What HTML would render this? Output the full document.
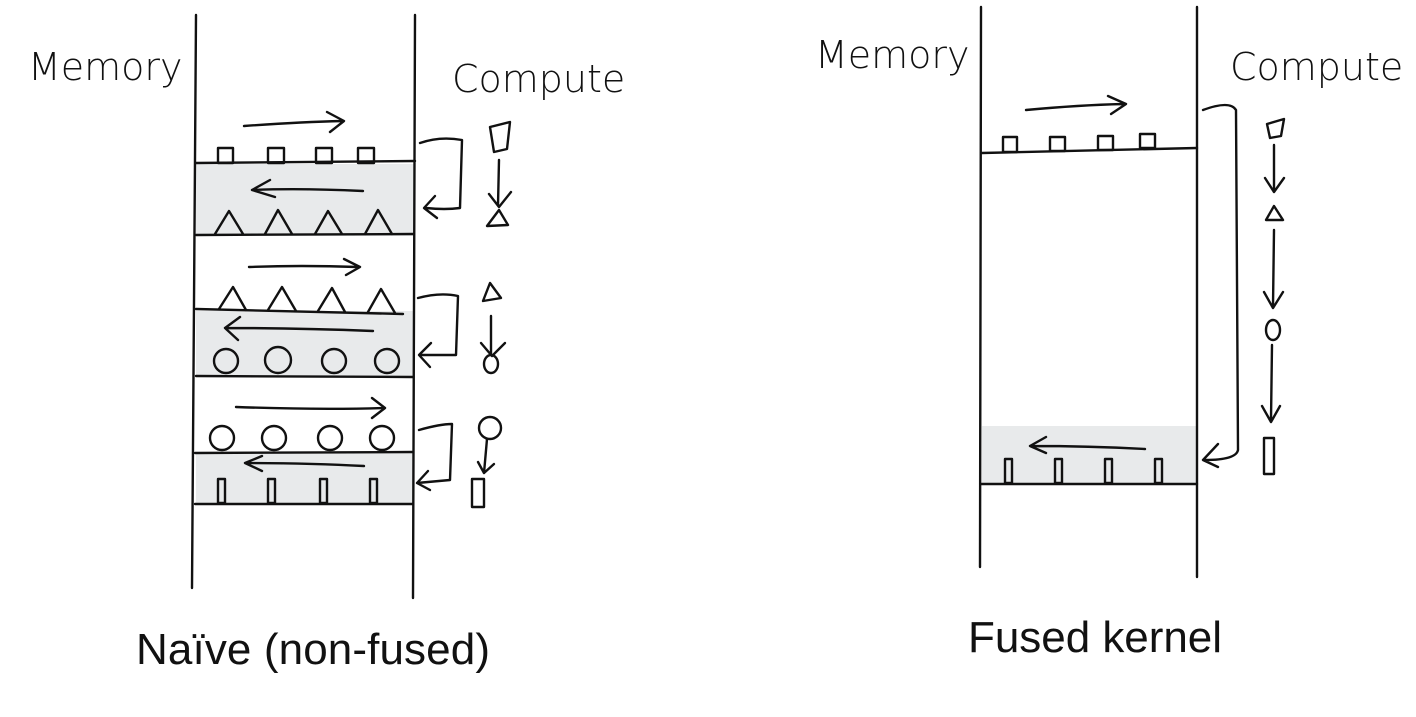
<!DOCTYPE html>
<html><head><meta charset="utf-8"><style>
html,body{margin:0;padding:0;background:#fff;}
svg{display:block}
.h{font-family:"DejaVu Sans","Liberation Sans",sans-serif;font-size:38px;font-weight:200;fill:#111}
.c{font-family:"Liberation Sans",sans-serif;font-size:44px;fill:#111}
</style></head><body>
<svg width="1416" height="717" viewBox="0 0 1416 717" xmlns="http://www.w3.org/2000/svg" fill="none" stroke="#111" stroke-width="2.4" stroke-linecap="round" stroke-linejoin="round">
<rect x="196" y="164" width="218" height="72" fill="#e8eaeb" stroke="none"/>
<rect x="196" y="311" width="218" height="66" fill="#e8eaeb" stroke="none"/>
<rect x="196" y="453" width="218" height="51" fill="#e8eaeb" stroke="none"/>
<path d="M196 15 L192 588 M415 15 L413 598"/>
<path d="M196 163 L415 161 M196 235 L413 234 M196 309 L403 314 M196 376 L413 377 M195 453 L413 452 M195 504 L413 504"/>
<path d="M244 126 Q300 122 342 121 M327 112 L344 121 L330 132"/>
<path d="M363 191 Q300 188 252 190 M270 180 L252 190 L275 197"/>
<path d="M249 267 Q300 265 358 267 M344 259 L360 267 L346 275"/>
<path d="M373 331 Q300 328 225 328 M240 317 L225 328 L238 340"/>
<path d="M236 407 Q320 410 383 408 M372 398 L385 408 L372 418"/>
<path d="M364 466 Q310 463 245 463 M262 456 L245 463 L262 471"/>
<g><rect x="218" y="148" width="15" height="15"/><rect x="268" y="148" width="16" height="15"/><rect x="316" y="148" width="16" height="15"/><rect x="358" y="148" width="16" height="15"/></g>
<path d="M215 234 L229 211 L243 234 M265 234 L278 210 L292 234 M315 234 L328 211 L342 234 M365 234 L378 210 L392 234"/>
<path d="M219 309 L233 287 L246 310 M268 310 L282 287 L296 311 M318 311 L332 288 L345 312 M368 312 L381 289 L395 313"/>
<g><circle cx="226" cy="361" r="12"/><circle cx="278" cy="360" r="13"/><circle cx="334" cy="361" r="12"/><circle cx="387" cy="361" r="12"/>
<circle cx="222" cy="438" r="12"/><circle cx="274" cy="438" r="12"/><circle cx="330" cy="438" r="12"/><circle cx="382" cy="438" r="12"/></g>
<path d="M218 479 h7 v24 h-7z M268 479 h7 v24 h-7z M320 479 h7 v24 h-7z M370 479 h7 v24 h-7z"/>
<path d="M420 143 Q440 136 462 140 L460 208 Q445 210 426 208 M435 196 L424 208 L437 218"/>
<path d="M418 298 Q440 292 458 296 L456 355 L420 355 M431 343 L419 355 L430 367"/>
<path d="M419 430 Q440 424 452 424 L450 480 L417 483 M428 471 L417 483 L430 490"/>
<path d="M490 127 L510 122 L507 149 L494 152 Z"/>
<path d="M499 160 L498 205 M489 194 L499 207 M511 192 L499 207"/>
<path d="M487 226 L499 210 L508 225 Z"/>
<path d="M483 301 L490 283 L501 298 Z"/>
<path d="M491 316 L491 354 M481 343 L492 356 M505 343 L492 356"/>
<ellipse cx="491" cy="364" rx="7" ry="9"/>
<circle cx="490" cy="428" r="11"/>
<path d="M487 439 L484 473 M478 462 L484 473 M494 464 L484 473"/>
<rect x="472" y="479" width="12" height="28"/>
<rect x="982" y="426" width="215" height="58" fill="#e8eaeb" stroke="none"/>
<path d="M981 7 L980 567 M1197 7 L1197 577"/>
<path d="M982 153 L1197 148 M981 484 L1197 484"/>
<path d="M1026 110 Q1080 105 1123 104 M1108 96 L1126 104 L1111 114"/>
<path d="M1145 449 Q1090 446 1030 446 M1046 437 L1030 446 L1046 453"/>
<path d="M1003 137 h14 v15 h-14z M1050 137 h15 v14 h-15z M1098 136 h15 v14 h-15z M1140 134 h15 v14 h-15z"/>
<path d="M1005 459 h7 v24 h-7z M1055 459 h7 v24 h-7z M1105 459 h7 v24 h-7z M1155 459 h7 v24 h-7z"/>
<path d="M1203 110 Q1230 100 1236 110 L1238 450 Q1236 460 1205 460 M1218 444 L1203 460 L1218 467"/>
<path d="M1267 124 L1284 119 L1281 136 L1270 138 Z"/>
<path d="M1274 145 L1274 190 M1265 178 L1274 192 M1284 178 L1274 192"/>
<path d="M1266 220 L1274 206 L1283 220 Z"/>
<path d="M1274 230 L1273 306 M1264 292 L1273 308 M1283 292 L1273 308"/>
<ellipse cx="1273" cy="330" rx="7" ry="10"/>
<path d="M1272 345 L1271 420 M1262 406 L1271 422 M1280 406 L1271 422"/>
<rect x="1264" y="438" width="10" height="36"/>
<g stroke="none">
<text x="28" y="80" class="h">Memory</text>
<text x="452" y="92" class="h">Compute</text>
<text x="815" y="68" class="h">Memory</text>
<text x="1230" y="80" class="h">Compute</text>
<text x="136" y="664" class="c" textLength="354">Naïve (non-fused)</text>
<text x="968" y="652" class="c" textLength="254">Fused kernel</text>
</g>
</svg>
</body></html>
